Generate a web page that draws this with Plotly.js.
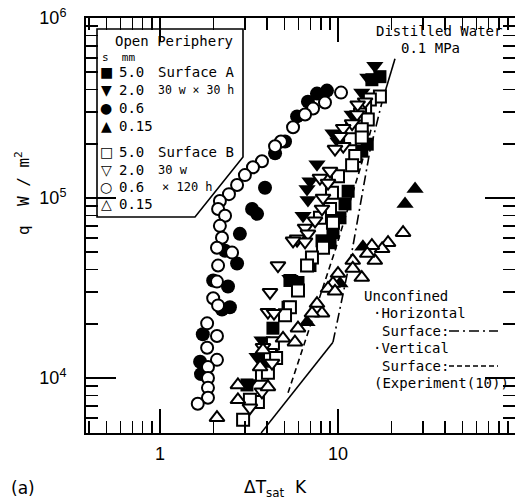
<!DOCTYPE html>
<html><head><meta charset="utf-8">
<script src="https://cdn.plot.ly/plotly-3.0.1.min.js"></script>
<style>body{margin:0;background:#fff}#c{width:515px;height:504px}</style>
</head><body><div id="c"></div><script>
// ---- data (ΔTsat in K, q in W/m2) ----
const sqA_x = [17.2,15.5,14.6,13.6,11.4,10.95,10.26,9.37,9.02,8.13,6.96,5.96,5.37,5.24,4.31,4.26,3.99,3.08];
const sqA_y = [472000,454000,199000,182000,109000,92700,77600,64100,56400,57800,42100,33900,34800,24700,18900,14300,12600,9140];
const tdA_x = [16.1,14.7,13.6,12.0,9.37,10.0,7.62,6.96,6.70,6.78,6.36,5.89,5.37,3.74,3.51,3.20];
const tdA_y = [543000,467000,385000,291000,229000,206000,154000,124000,112000,97500,79600,57800,35600,16200,13100,9370];
const ciA_x = [8.67,7.62,6.78,5.89,5.04,4.43,3.89,3.29,3.51,2.81,2.32,2.71,2.41,1.99,2.47,2.23,1.74,1.68,1.70];
const ciA_y = [395000,380000,343000,284000,206000,177000,114000,86900,81600,63200,50900,43200,32200,34800,24700,24000,17500,12300,10500];
const tuA_x = [27.1,23.8,13.8,10.26,6.70];
const tuA_y = [112000,92700,53600,33500,20400];
const sqB_x = [17.2,15.1,14.2,13.3,14.7,12.0,13.6,11.7,13.6,12.5,12.0,10.0,9.25,9.02,7.92,9.37,8.24,7.14,6.70,5.96,5.37,5.04,4.31,4.15,4.49,3.74,4.04,3.55,3.20,2.93];
const sqB_y = [366000,352000,318000,291000,273000,244000,241000,212000,217000,171000,152000,132000,107000,86900,77600,72800,52900,46700,42100,30600,24700,22300,15600,13400,12900,10400,10700,7360,7560,5860];
const tdB_x = [14.2,12.9,12.8,12.0,10.7,10.26,10.7,9.62,9.02,7.92,8.79,8.24,8.13,7.43,6.53,6.78,5.89,6.53,5.59,4.60,4.15,4.04,4.37,3.79,4.26,3.74,3.20];
const tdB_y = [343000,330000,291000,259000,244000,220000,194000,187000,141000,129000,121000,100000,86900,74600,68200,63200,59300,57100,57800,42100,29900,23200,22900,14800,12100,8380,6820];
const ciB_x = [10.4,8.45,7.24,6.53,5.59,4.78,4.43,3.74,3.33,3.00,2.71,2.44,2.17,2.12,2.32,2.17,2.23,2.09,2.54,2.12,2.09,1.99,2.12,1.84,2.09,1.84,2.09,1.86,1.86,1.86,1.86,1.63];
const ciB_y = [385000,339000,314000,291000,247000,206000,194000,160000,148000,134000,118000,105000,96200,86900,79600,70000,60100,52900,49700,42100,34300,27700,25300,20100,17100,14700,12600,11500,10000,8810,7760,7190];
const tuB_x = [23.2,19.1,17.7,15.5,16.1,14.6,12.1,12.1,13.6,10.0,9.37,8.79,9.62,8.13,7.62,7.14,5.96,4.91,5.73,3.79,3.65,4.04,2.74,2.74,2.09];
const tuB_y = [64100,56400,52200,54300,44900,49100,44900,40600,36100,38000,33500,31400,30300,22900,25900,22900,18900,16600,15800,14300,11500,8910,9140,7560,6010];
// reference curves
const natConv_x = [3.70, 9.37];
const natConv_y = [4950, 15800];
const horiz_x = [9.37, 10.7, 12.0, 15.1, 17.7];
const horiz_y = [15800, 29500, 50900, 182000, 343000];
const water_x = [17.7, 20.9];
const water_y = [343000, 593000];
const vert_x = [5.24, 9.62, 13.3, 15.5];
const vert_y = [8260, 50900, 145000, 250000];
// ticks
const xTickVals = [1, 10, 100];
const xTickText = ['1', '10', '100'];
const yTickVals = [1e4, 1e5, 1e6];
const yTickText = ['10<sup>4</sup>', '10<sup>5</sup>', '10<sup>6</sup>'];
// legend
const legSymbols = ['■','▼','●','▲','□','▽','○','△'];
const legLabels = ['5.0','2.0','0.6','0.15','5.0','2.0','0.6','0.15'];

// ---- layout helpers (pixel -> paper) ----
const L = 86, T = 18, W = 429, H = 415;
const fx = p => (p - L) / W;
const fy = p => (T + H - p) / H;

function minorVals(lo, hi) {
  const v = [];
  for (let e = lo; e <= hi; e++) for (let d = 2; d <= 9; d++) v.push(d * Math.pow(10, e));
  return v;
}

function pts(x, y, sym, filled, size) {
  return {
    x: x, y: y, type: 'scatter', mode: 'markers', hoverinfo: 'skip',
    marker: { symbol: sym, size: size, color: filled ? '#000' : '#fff',
              line: { color: '#000', width: filled ? 0 : 2 } }
  };
}
function crv(x, y, dash) {
  return { x: x, y: y, type: 'scatter', mode: 'lines', hoverinfo: 'skip',
           line: { color: '#000', width: 1.6, dash: dash } };
}

const data = [
  crv(natConv_x, natConv_y, 'solid'),
  crv(horiz_x, horiz_y, '10px,4px,2px,4px'),
  crv(water_x, water_y, 'solid'),
  crv(vert_x, vert_y, '6px,4px'),
  pts(ciA_x, ciA_y, 'circle', true, 14),
  pts(sqA_x, sqA_y, 'square', true, 13),
  pts(tdA_x, tdA_y, 'triangle-down', true, 15),
  pts(tuA_x, tuA_y, 'triangle-up', true, 15),
  pts(ciB_x, ciB_y, 'circle', false, 12),
  pts(sqB_x, sqB_y, 'square', false, 12),
  pts(tdB_x, tdB_y, 'triangle-down', false, 13),
  pts(tuB_x, tuB_y, 'triangle-up', false, 13)
];

const mono = 'DejaVu Sans Mono';
const ann = [];
function txt(text, px, py, size, opts) {
  ann.push(Object.assign({ text: text, x: fx(px), y: fy(py), xref: 'paper', yref: 'paper',
    xanchor: 'left', yanchor: 'middle', showarrow: false,
    font: { family: mono, size: size, color: '#000' } }, opts || {}));
}
txt('Open Periphery', 113, 41, 14);
txt('s  mm', 100, 57, 11);
const rowY = [72, 90, 108, 126, 152, 170, 187, 204];
for (let i = 0; i < 8; i++) {
  txt(legSymbols[i], 106, rowY[i], 14, { xanchor: 'center', font: { family: 'DejaVu Sans', size: 14, color: '#000' } });
  txt(legLabels[i], 117, rowY[i], 14);
}
txt('Surface A', 156, 72, 14);
txt('30 w × 30 h', 156, 90, 11.5);
txt('Surface B', 156, 152, 14);
txt('30 w', 156, 170, 12);
txt('× 120 h', 160, 187, 12);
txt('Distilled Water', 374, 31, 14);
txt('0.1 MPa', 399, 48, 14);
txt('Unconfined', 362, 296, 14);
txt('·Horizontal', 371, 313, 14);
txt('Surface:', 380, 331, 14);
txt('·Vertical', 371, 348, 14);
txt('Surface:', 380, 366, 14);
txt('(Experiment(10))', 372, 383, 14);
// axis titles
ann.push({ text: 'q  W / m<sup>2</sup>', x: fx(22), y: fy(193), xref: 'paper', yref: 'paper',
  textangle: -90, showarrow: false, xanchor: 'center', yanchor: 'middle',
  font: { family: mono, size: 16, color: '#000' } });
ann.push({ text: 'ΔT<sub>sat</sub>  K', x: fx(275), y: fy(488), xref: 'paper', yref: 'paper',
  showarrow: false, xanchor: 'center', yanchor: 'middle',
  font: { family: 'DejaVu Sans', size: 17, color: '#000' } });
ann.push({ text: '(a)', x: fx(9), y: fy(488), xref: 'paper', yref: 'paper',
  showarrow: false, xanchor: 'left', yanchor: 'middle',
  font: { family: 'DejaVu Sans', size: 17, color: '#000' } });

const shapes = [
  { type: 'path', xref: 'paper', yref: 'paper',
    path: `M ${fx(97)},${fy(29)} L ${fx(243)},${fy(29)} L ${fx(243)},${fy(157)} L ${fx(195)},${fy(217)} L ${fx(97)},${fy(217)} Z`,
    line: { color: '#000', width: 1.6 }, fillcolor: 'rgba(0,0,0,0)' },
  { type: 'line', xref: 'paper', yref: 'paper', x0: fx(449), x1: fx(498), y0: fy(331), y1: fy(331),
    line: { color: '#000', width: 1.5, dash: '10px,4px,2px,4px' } },
  { type: 'line', xref: 'paper', yref: 'paper', x0: fx(449), x1: fx(498), y0: fy(366), y1: fy(366),
    line: { color: '#000', width: 1.5, dash: '5px,3px' } }
];

const axBase = {
  type: 'log', showgrid: false, zeroline: false, showline: true, linecolor: '#000', linewidth: 2,
  mirror: 'ticks', ticks: 'inside', tickcolor: '#000', tickwidth: 1.5, tickmode: 'array',
  tickfont: { family: 'Liberation Sans', size: 18, color: '#000' }
};
const layout = {
  width: 515, height: 504, showlegend: false,
  margin: { l: L, r: 515 - L - W, t: T, b: 504 - T - H, pad: 0 },
  paper_bgcolor: '#fff', plot_bgcolor: '#fff',
  xaxis: Object.assign({}, axBase, {
    range: [Math.log10(0.384), Math.log10(98.7)], tickvals: xTickVals, ticktext: xTickText, ticklen: 24,
    ticklabelstandoff: 3,
    minor: { tickmode: 'array', tickvals: minorVals(-1, 1), ticks: 'inside', ticklen: 12, tickcolor: '#000', tickwidth: 1.5 }
  }),
  yaxis: Object.assign({}, axBase, {
    range: [3.694, 6.0], tickvals: yTickVals, ticktext: yTickText, ticklen: 30,
    ticklabelstandoff: 14,
    minor: { tickmode: 'array', tickvals: minorVals(3, 5), ticks: 'inside', ticklen: 12, tickcolor: '#000', tickwidth: 1.5 }
  }),
  annotations: ann, shapes: shapes
};
Plotly.newPlot('c', data, layout, { displayModeBar: false, staticPlot: true });
</script></body></html>
